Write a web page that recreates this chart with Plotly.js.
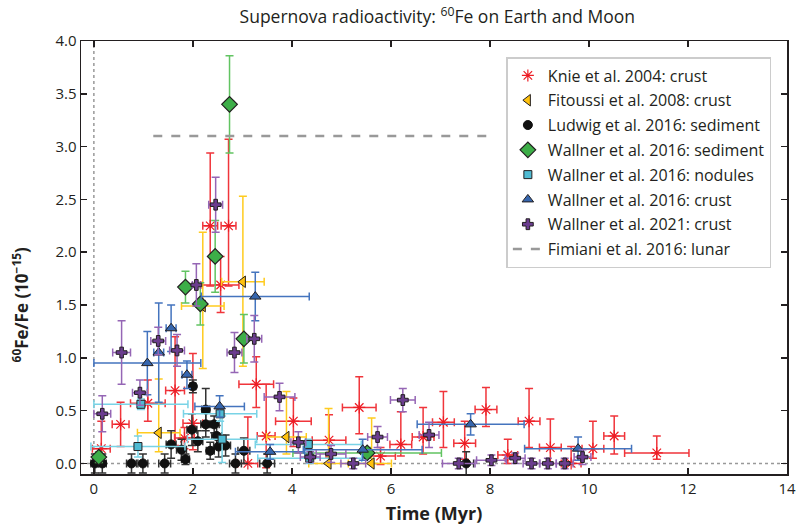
<!DOCTYPE html>
<html>
<head>
<meta charset="utf-8">
<script src="https://cdn.plot.ly/plotly-3.0.1.min.js"></script>
<style>html,body{margin:0;padding:0;background:#fff}#chart{width:798px;height:529px}</style>
</head>
<body>
<div id="chart"></div>
<script>
// ---- Knie et al. 2004: crust ----
const knieX  = [0.15,0.54,1.09,1.64,1.83,2.00,2.35,2.72,2.56,3.28,3.48,4.03,3.11,4.75,5.36,5.79,6.20,6.65,7.06,7.49,7.92,8.36,8.79,9.22,9.64,10.08,10.51,11.37];
const knieY  = [0.14,0.37,0.57,0.69,0.24,0.38,2.25,2.25,1.69,0.75,0.26,0.40,0.00,0.22,0.53,0.07,0.18,0.25,0.39,0.19,0.51,0.08,0.40,0.15,0.00,0.14,0.26,0.10];
const knieXe = [0.18,0.17,0.35,0.19,0.20,0.20,0.15,0.15,0.37,0.35,0.18,0.36,0.20,0.34,0.34,0.30,0.22,0.22,0.22,0.22,0.22,0.20,0.22,0.22,0.20,0.22,0.21,0.65];
const knieYp = [0.26,0.21,0.22,0.51,0.10,0.66,0.69,0.82,0.27,0.26,0.49,0.22,0.44,0.24,0.29,0.08,0.31,0.28,0.29,0.21,0.21,0.15,0.31,0.27,0.16,0.26,0.19,0.16];
const knieYm = [0.14,0.21,0.17,0.52,0.10,0.25,0.57,0.57,0.26,0.22,0.30,0.24,0.00,0.16,0.25,0.08,0.11,0.16,0.24,0.15,0.16,0.08,0.25,0.15,0.00,0.09,0.17,0.06];

// ---- Fitoussi et al. 2008: crust ----
const fitX  = [1.31,2.20,3.01,3.89,4.74,5.61];
const fitY  = [0.29,1.49,1.72,0.25,0.00,0.00];
const fitXe = [0.43,0.43,0.43,0.40,0.40,0.40];
const fitYp = [0.51,0.70,0.81,0.43,0.52,0.43];
const fitYm = [0.18,0.59,0.80,0.16,0.00,0.00];

// ---- Ludwig et al. 2016: sediment ----
const ludX  = [0.02,0.17,0.76,0.99,1.43,1.56,1.77,1.85,1.98,2.00,2.10,2.26,2.26,2.35,2.43,2.48,2.52,2.66,2.86,3.03,3.50,7.52];
const ludY  = [0.00,0.00,0.00,0.00,0.00,0.18,0.13,0.04,0.32,0.73,0.21,0.51,0.37,0.12,0.37,0.26,0.16,0.17,0.00,0.12,0.00,0.00];
const ludXe = [0.08,0.08,0.10,0.10,0.12,0.10,0.10,0.08,0.10,0.06,0.10,0.08,0.10,0.08,0.10,0.10,0.10,0.10,0.12,0.12,0.15,0.15];
const ludYe = [0.09,0.09,0.09,0.09,0.09,0.13,0.10,0.05,0.15,0.06,0.10,0.20,0.12,0.08,0.08,0.10,0.10,0.10,0.09,0.12,0.09,0.11];

// ---- Wallner et al. 2016: sediment ----
const wsX  = [0.10,1.85,2.15,2.45,2.74,3.03,5.52];
const wsY  = [0.06,1.67,1.51,1.96,3.40,1.18,0.10];
const wsXe = [0.06,0.08,0.08,0.08,0.08,0.08,1.50];
const wsYe = [0.05,0.15,0.20,0.34,0.46,0.23,0.05];

// ---- Wallner et al. 2016: nodules ----
const wnX  = [0.89,0.95,2.55,2.59,4.33,4.36];
const wnY  = [0.16,0.56,0.47,0.23,0.18,0.05];
const wnXe = [0.95,0.95,0.74,0.70,1.07,1.05];
const wnYe = [0.10,0.05,0.07,0.22,0.05,0.05];

// ---- Wallner et al. 2016: crust ----
const wcX  = [1.08,1.31,1.56,1.88,2.54,3.26,3.56,5.43,7.61,9.78];
const wcY  = [0.95,1.05,1.28,0.84,0.54,1.58,0.11,0.13,0.37,0.14];
const wcXe = [1.08,0.10,0.10,0.10,0.50,1.09,0.70,1.20,1.08,1.08];
const wcYe = [0.30,0.47,0.22,0.13,0.10,0.23,0.07,0.10,0.10,0.11];

// ---- Wallner et al. 2021: crust ----
const w21X  = [0.17,0.56,0.93,1.30,1.68,2.07,2.46,2.84,3.24,3.75,4.13,4.37,4.79,5.24,5.73,6.24,6.77,7.37,8.03,8.51,8.84,9.17,9.51,9.87];
const w21Y  = [0.47,1.05,0.67,1.16,1.07,1.69,2.45,1.05,1.18,0.63,0.20,0.06,0.09,0.00,0.25,0.60,0.27,0.00,0.03,0.05,0.00,0.00,0.00,0.06];
const w21Xe = [0.17,0.18,0.15,0.15,0.15,0.08,0.14,0.15,0.15,0.31,0.15,0.20,0.30,0.25,0.20,0.25,0.20,0.33,0.30,0.20,0.17,0.17,0.17,0.17];
const w21Ye = [0.17,0.30,0.12,0.13,0.15,0.20,0.26,0.19,0.22,0.13,0.10,0.05,0.08,0.05,0.10,0.11,0.12,0.05,0.05,0.05,0.05,0.05,0.05,0.07];

// ---- Fimiani et al. 2016: lunar ----
const fimX = [1.2, 8.1];
const fimY = [3.1, 3.1];

const names = ['Knie et al. 2004: crust','Fitoussi et al. 2008: crust','Ludwig et al. 2016: sediment',
  'Wallner et al. 2016: sediment','Wallner et al. 2016: nodules','Wallner et al. 2016: crust',
  'Wallner et al. 2021: crust','Fimiani et al. 2016: lunar'];

function ex(arr, col){ return {type:'data', array:arr, visible:true, color:col, thickness:1.5, width:4}; }
function eyA(p, m, col){ return {type:'data', symmetric:false, array:p, arrayminus:m, visible:true, color:col, thickness:1.5, width:4}; }
function ey(arr, col){ return {type:'data', array:arr, visible:true, color:col, thickness:1.5, width:4}; }

const dark = '#231f20';
const traces = [
  {x:knieX, y:knieY, name:names[0], mode:'markers', type:'scatter', legendgroup:'a',
   marker:{symbol:'asterisk-open', size:10, color:'#ED1C24', line:{color:'#ED1C24', width:1.2}},
   error_x:ex(knieXe,'#F0353B'), error_y:eyA(knieYp,knieYm,'#F0353B')},
  {x:fitX, y:fitY, name:names[1], mode:'markers', type:'scatter', legendgroup:'b',
   marker:{symbol:'triangle-left', size:10, color:'#FFC20E', line:{color:dark, width:1}},
   error_x:ex(fitXe,'#FFCB1F'), error_y:eyA(fitYp,fitYm,'#FFCB1F')},
  {x:ludX, y:ludY, name:names[2], mode:'markers', type:'scatter', legendgroup:'c',
   marker:{symbol:'circle', size:9, color:'#111', line:{color:'#111', width:1}},
   error_x:ex(ludXe,'#333'), error_y:ey(ludYe,'#333')},
  {x:wsX, y:wsY, name:names[3], mode:'markers', type:'scatter', legendgroup:'d',
   marker:{symbol:'diamond', size:12, color:'#3DAE48', line:{color:dark, width:1.2}},
   error_x:ex(wsXe,'#62C462'), error_y:ey(wsYe,'#62C462')},
  {x:wnX, y:wnY, name:names[4], mode:'markers', type:'scatter', legendgroup:'e',
   marker:{symbol:'square', size:8, color:'#4FBBD3', line:{color:dark, width:1}},
   error_x:ex(wnXe,'#79D3E6'), error_y:ey(wnYe,'#79D3E6')},
  {x:wcX, y:wcY, name:names[5], mode:'markers', type:'scatter', legendgroup:'f',
   marker:{symbol:'triangle-up', size:10, color:'#3666AE', line:{color:dark, width:1}},
   error_x:ex(wcXe,'#4474BE'), error_y:ey(wcYe,'#4474BE')},
  {x:w21X, y:w21Y, name:names[6], mode:'markers', type:'scatter', legendgroup:'g',
   marker:{symbol:'cross', size:9, color:'#6B3D8F', line:{color:dark, width:1}},
   error_x:ex(w21Xe,'#9566B5'), error_y:ey(w21Ye,'#9566B5')},
  {x:fimX, y:fimY, name:names[7], mode:'lines', type:'scatter', legendgroup:'h',
   line:{color:'#999', width:2.5, dash:'dash'}}
];

const axisCommon = {showgrid:false, zeroline:false, showline:true, linecolor:dark, linewidth:1.5,
  mirror:'ticks', ticks:'inside', ticklen:6, tickwidth:1.5, tickcolor:dark,
  tickfont:{size:15, color:dark}};

const layout = {
  width:798, height:529,
  margin:{l:81, r:11, t:41, b:55},
  paper_bgcolor:'#fff', plot_bgcolor:'#fff',
  font:{family:'"Open Sans", "Noto Sans", sans-serif', color:dark},
  title:{text:'Supernova radioactivity: <sup>60</sup>Fe on Earth and Moon', font:{size:17.5, color:dark},
    x:0.548, xanchor:'center', y:0.968, yanchor:'middle'},
  xaxis:Object.assign({}, axisCommon, {range:[-0.26,14], dtick:2, tick0:0,
    title:{text:'<b>Time (Myr)</b>', font:{size:18, color:dark}, standoff:11}}),
  yaxis:Object.assign({}, axisCommon, {range:[-0.1,4.0], dtick:0.5, tick0:0, tickformat:'.1f'}),
  annotations:[
    {text:'<b><sup>60</sup>Fe/Fe (10<sup>−15</sup>)</b>', xref:'paper', yref:'paper',
     x:-0.086, y:0.39, xanchor:'center', yanchor:'middle', textangle:-90, showarrow:false,
     font:{size:17, color:dark}}
  ],
  showlegend:true,
  legend:{x:0.6025, y:0.963, xanchor:'left', yanchor:'top', bgcolor:'#fff',
    bordercolor:'#ccc', borderwidth:1.5, font:{size:16, color:dark}, tracegroupgap:1,
    traceorder:'grouped'},
  shapes:[
    {type:'line', xref:'x', yref:'paper', x0:0, x1:0, y0:0, y1:1, layer:'below',
     line:{color:'#999', width:1.5, dash:'dot'}},
    {type:'line', xref:'paper', yref:'y', x0:0, x1:1, y0:0, y1:0, layer:'below',
     line:{color:'#999', width:1.5, dash:'dot'}}
  ]
};

Plotly.newPlot('chart', traces, layout, {displayModeBar:false, staticPlot:true});
</script>
</body>
</html>
